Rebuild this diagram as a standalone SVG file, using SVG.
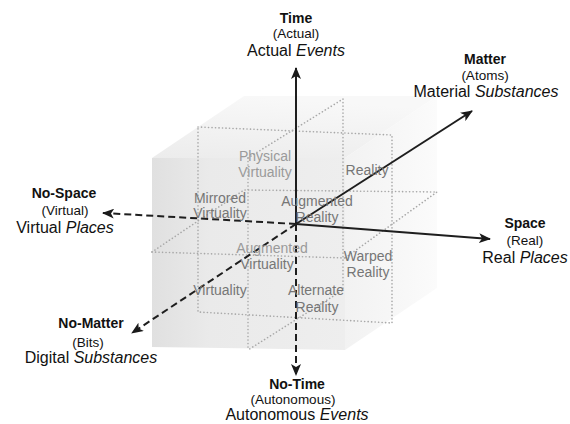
<svg xmlns="http://www.w3.org/2000/svg" width="570" height="424" viewBox="0 0 570 424">
<defs>
<linearGradient id="gFront" x1="0" y1="0" x2="1" y2="0">
<stop offset="0" stop-color="#e0e0e0"/>
<stop offset="0.3" stop-color="#eaeaea"/>
<stop offset="1" stop-color="#eeeeee"/>
</linearGradient>
<linearGradient id="gTop" x1="0" y1="1" x2="0.3" y2="0">
<stop offset="0" stop-color="#ececec"/>
<stop offset="1" stop-color="#f8f8f8"/>
</linearGradient>
<linearGradient id="gRight" x1="0" y1="0" x2="1" y2="0">
<stop offset="0" stop-color="#f2f2f2"/>
<stop offset="1" stop-color="#fbfbfb"/>
</linearGradient>
<marker id="ah" viewBox="0 0 12 10" refX="11" refY="5" markerWidth="12" markerHeight="10" markerUnits="userSpaceOnUse" orient="auto">
<path d="M0,0 L12,5 L0,10 L3,5 Z" fill="#1a1a1a"/>
</marker>
</defs>
<style>
.dot{fill:none;stroke:#a8a8a8;stroke-width:1.6;stroke-dasharray:0.1 3.4;stroke-linecap:round}
.ax{fill:none;stroke:#1e1e1e;stroke-width:2}
.neg{stroke-dasharray:7 4}
.lbl{font-family:"Liberation Sans",Arial,sans-serif;text-anchor:middle;fill:#111}
.b{font-weight:bold;font-size:14px}
.p{font-size:13.5px}
.m{font-size:16px}
.c{font-family:"Liberation Sans",Arial,sans-serif;text-anchor:middle;font-size:14px;fill:#767676}
.cl{fill:#9a9a9a}
</style>
<rect width="570" height="424" fill="#ffffff"/>
<g id="cube">
<polygon points="152,158 244,96 437,96 345,158" fill="url(#gTop)"/>
<polygon points="345,158 437,96 437,288 345,350" fill="url(#gRight)"/>
<polygon points="152,158 345,158 345,350 152,347" fill="url(#gFront)"/>
</g>
<g id="grid">
<path class="dot" d="M198,127 L392,135 L392,323 L198,312 Z"/>
<path class="dot" d="M248,158 L248,350"/>
<path class="dot" d="M152,252 L345,258"/>
<path class="dot" d="M248,158 L343,99 L343,290 L248,350"/>
<path class="dot" d="M152,252 L244,190 L437,192 L345,258"/>
</g>
<g id="connectors">
<line class="ax" x1="296" y1="224" x2="296" y2="68" marker-end="url(#ah)"/>
<line class="ax neg" x1="296" y1="224" x2="296" y2="375" marker-end="url(#ah)"/>
<line class="ax" x1="296" y1="224" x2="490" y2="239" marker-end="url(#ah)"/>
<line class="ax neg" x1="296" y1="224" x2="103" y2="213" marker-end="url(#ah)"/>
<line class="ax" x1="296" y1="224" x2="472" y2="111" marker-end="url(#ah)"/>
<line class="ax neg" x1="296" y1="224" x2="132" y2="333" marker-end="url(#ah)"/>
</g>
<g id="octants">
<text class="c cl" x="265" y="161">Physical</text>
<text class="c cl" x="265" y="177">Virtuality</text>
<text class="c" x="367" y="175">Reality</text>
<text class="c" x="220" y="203">Mirrored</text>
<text class="c" x="220" y="218">Virtuality</text>
<text class="c" x="317" y="206">Augmented</text>
<text class="c" x="317" y="222">Reality</text>
<text class="c cl" x="272" y="253">Augmented</text>
<text class="c" x="267" y="269">Virtuality</text>
<text class="c" x="368" y="261">Warped</text>
<text class="c" x="368" y="277">Reality</text>
<text class="c" x="220" y="295">Virtuality</text>
<text class="c" x="316" y="295">Alternate</text>
<text class="c" x="317" y="312">Reality</text>
</g>
<g id="time">
<text class="lbl b" x="296" y="23">Time</text>
<text class="lbl p" x="296" y="38">(Actual)</text>
<text class="lbl m" x="296" y="56">Actual <tspan font-style="italic">Events</tspan></text>
</g>
<g id="matter">
<text class="lbl b" x="485" y="64">Matter</text>
<text class="lbl p" x="485" y="80">(Atoms)</text>
<text class="lbl m" x="486" y="97">Material <tspan font-style="italic">Substances</tspan></text>
</g>
<g id="space">
<text class="lbl b" x="525" y="228">Space</text>
<text class="lbl p" x="525" y="245">(Real)</text>
<text class="lbl m" x="525" y="263">Real <tspan font-style="italic">Places</tspan></text>
</g>
<g id="nospace">
<text class="lbl b" x="64" y="198">No-Space</text>
<text class="lbl p" x="65" y="215">(Virtual)</text>
<text class="lbl m" x="65" y="233">Virtual <tspan font-style="italic">Places</tspan></text>
</g>
<g id="nomatter">
<text class="lbl b" x="91" y="328">No-Matter</text>
<text class="lbl p" x="88" y="347">(Bits)</text>
<text class="lbl m" x="91" y="363">Digital <tspan font-style="italic">Substances</tspan></text>
</g>
<g id="notime">
<text class="lbl b" x="297" y="389">No-Time</text>
<text class="lbl p" x="293" y="404">(Autonomous)</text>
<text class="lbl m" x="297" y="420">Autonomous <tspan font-style="italic">Events</tspan></text>
</g>
</svg>
